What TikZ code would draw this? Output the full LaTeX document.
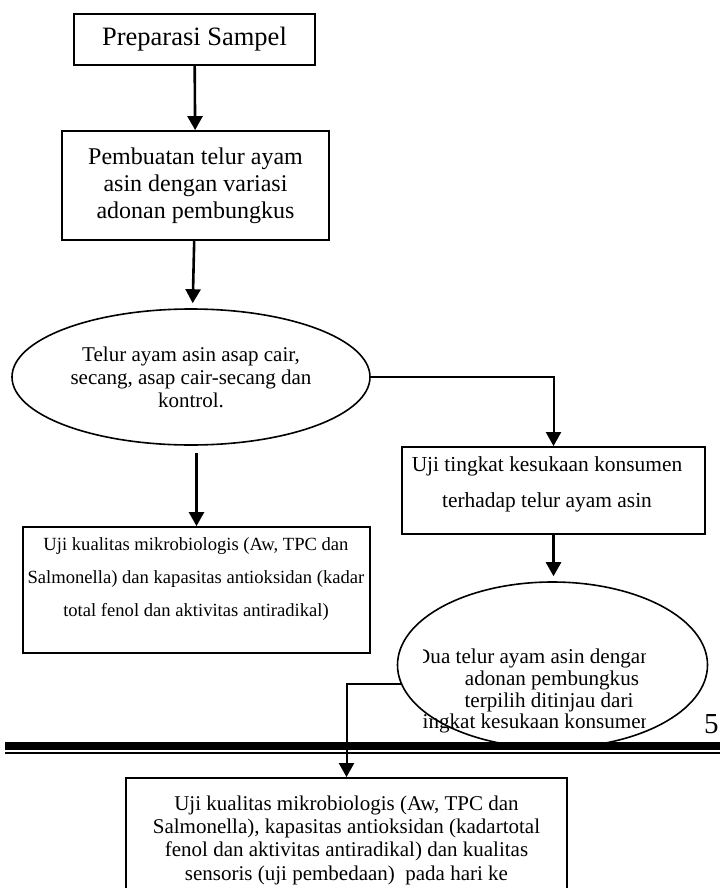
\documentclass[tikz,border=0pt]{standalone}
\usepackage{fontspec}
\setmainfont{Liberation Serif}
\usetikzlibrary{arrows.meta,shapes.geometric}
\newcommand{\fsz}[2]{\fontsize{#1}{#2}\selectfont}
\begin{document}
\begin{tikzpicture}[x=1pt, y=-1pt,
    box/.style={draw, line width=1.8pt, inner sep=0pt, align=center},
    oval/.style={draw, ellipse, line width=1.6pt, inner sep=0pt, align=center},
    arr/.style={line width=2.6pt, -{Triangle[width=15pt,length=14pt]}}]
  \useasboundingbox (0,0) rectangle (720,888);
  % main column
  \node[box, minimum width=241pt, minimum height=51pt, font=\fsz{26.5}{30}] (prep) at (194.5,39.5) {Preparasi Sampel};
  \node[box, minimum width=267pt, minimum height=109pt, font=\fsz{24}{27}] (buat) at (195.5,185.5) {Pembuatan telur ayam\\asin dengan variasi\\adonan pembungkus};
  \node[oval, minimum width=358pt, minimum height=136pt, font=\fsz{21}{23}] (telur) at (191,377) {Telur ayam asin asap cair,\\secang, asap cair-secang dan\\kontrol.};
  % left branch
  \node[box, minimum width=347pt, minimum height=126pt] (mikro) at (196.5,590) {};
  \node[align=center, font=\fsz{18.6}{33}] (mikrot) at (196,579) {Uji kualitas mikrobiologis (Aw, TPC dan\\Salmonella) dan kapasitas antioksidan (kadar\\total fenol dan aktivitas antiradikal)};
  % right branch
  \node[box, minimum width=303pt, minimum height=87pt] (uji) at (553.5,490.5) {};
  \node[align=center, font=\fsz{21.4}{36}] (ujit) at (547,484) {Uji tingkat kesukaan konsumen\\terhadap telur ayam asin};
  \node[oval, minimum width=310pt, minimum height=166pt] (dua) at (552.5,665) {};
  \begin{scope}
    \clip (423,640) rectangle (645,740);
    \node[anchor=base, font=\fsz{21.1}{22}] (dua1) at (533,663) {Dua telur ayam asin dengan};
    \node[anchor=base, font=\fsz{21.1}{22}] (dua2) at (552,685) {adonan pembungkus};
    \node[anchor=base, font=\fsz{21.1}{22}] (dua3) at (549,707) {terpilih ditinjau dari};
    \node[anchor=base, font=\fsz{21.1}{22}] (dua4) at (534,728) {tingkat kesukaan konsumen};
  \end{scope}
  % page break rule and number
  \node[anchor=base west, inner sep=0pt, font=\fsz{29}{29}] (hal) at (704,733) {5};
  \draw[line width=8pt] (5,746) -- (720,746);
  \draw[line width=1.8pt] (5,753) -- (720,753);
  \node[box, minimum width=441pt, minimum height=124pt, font=\fsz{21}{23.3}] (akhir) at (346.5,840) {Uji kualitas mikrobiologis (Aw, TPC dan\\Salmonella), kapasitas antioksidan (kadartotal\\fenol dan aktivitas antiradikal) dan kualitas\\sensoris (uji pembedaan)~ pada hari ke};
  % arrows
  \draw[arr] (prep) -- (buat);
  \draw[arr, shorten >=5pt] (buat) -- (telur);
  \coordinate (split) at ([yshift=-7pt]telur.south);
  \draw[arr] (split -| mikro.north) -- (mikro.north);
  \draw[arr, line width=2pt] (telur.east) -| (uji.north);
  \draw[arr, shorten >=5pt] (uji.south) -- (uji.south |- dua.north);
  \draw[arr, line width=2pt] (dua.187) -| (akhir.north);
\end{tikzpicture}
\end{document}
